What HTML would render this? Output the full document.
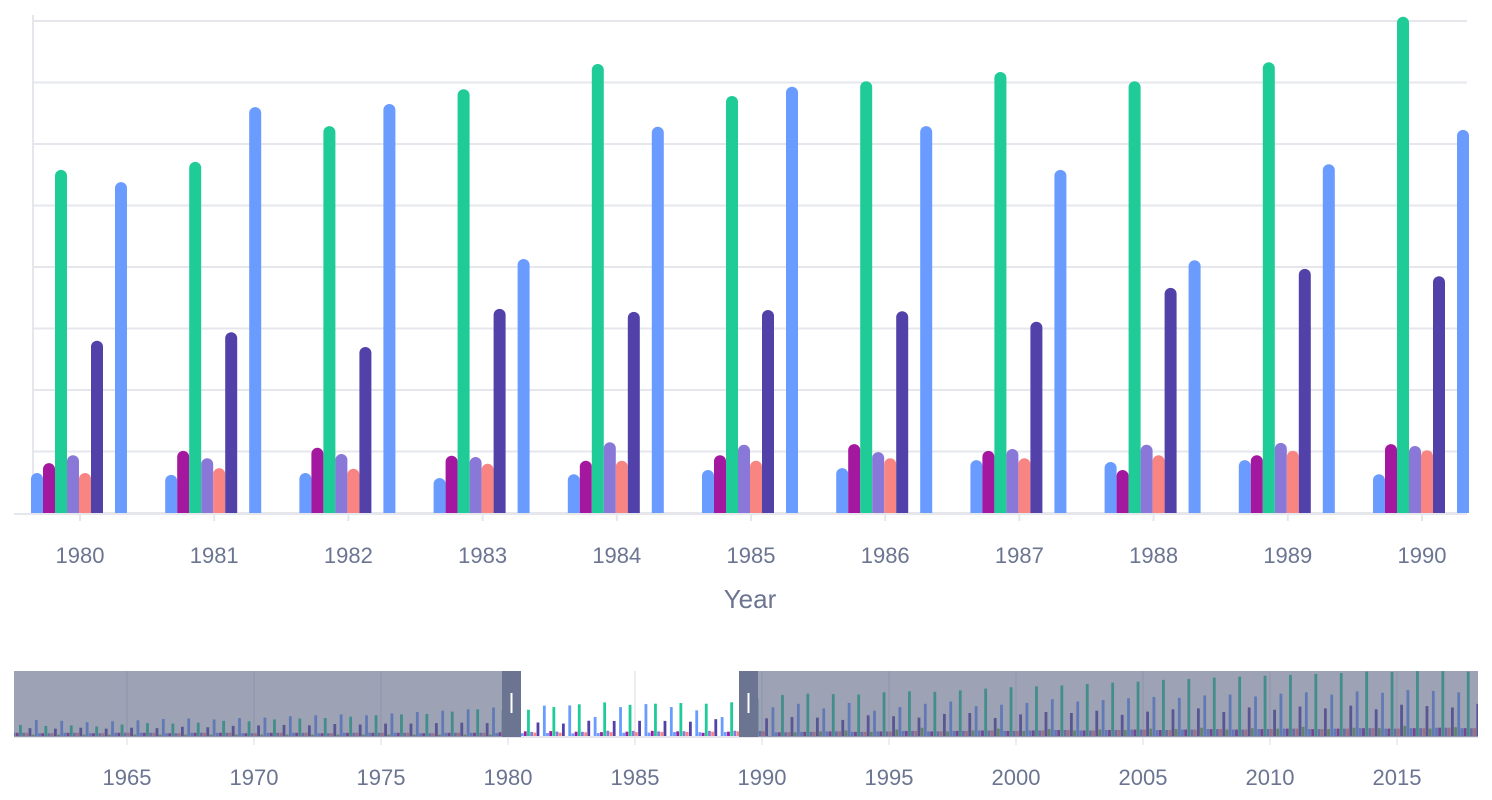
<!DOCTYPE html>
<html><head><meta charset="utf-8"><style>
html,body{margin:0;padding:0;background:#fff;}
svg{display:block;font-family:"Liberation Sans",sans-serif;}
</style></head><body>
<svg id="chart" width="1492" height="800">
<defs><clipPath id="navclip"><rect x="14" y="660" width="1464" height="78"/></clipPath></defs>
</svg>
<script>
const years=[1980,1981,1982,1983,1984,1985,1986,1987,1988,1989,1990];
const sBlue=[6.5,6.2,6.5,5.7,6.3,7.0,7.3,8.6,8.3,8.6,6.3];
const sMagenta=[8.1,10.1,10.6,9.3,8.5,9.4,11.2,10.1,7.0,9.4,11.2];
const sGreen=[55.8,57.1,62.9,68.9,73.0,67.8,70.2,71.7,70.2,73.3,80.7];
const sLavender=[9.4,8.9,9.6,9.1,11.5,11.1,9.9,10.4,11.1,11.4,10.9];
const sSalmon=[6.5,7.3,7.2,8.0,8.5,8.5,8.9,8.9,9.4,10.1,10.2];
const sIndigo=[28.0,29.4,27.0,33.2,32.7,33.0,32.8,31.1,36.6,39.7,38.5];
const sOlive=[0,0,0,0,0,0,0,0,0,0,0];
const sBlue2=[53.8,66.0,66.5,41.3,62.8,69.3,62.9,55.8,41.1,56.7,62.3];
const yTicks=[0,10,20,30,40,50,60,70,80];
const navTicks=[1965,1970,1975,1980,1985,1990,1995,2000,2005,2010,2015];
const navGreenPre=[24,22,23,21,25,28,27,29,33,32,36,38,39,42,45,47,48,53,58];
const navGreenPost=[89,92,91,90,95,97,96,99,103,106,108,110,113,116,118,122,124,127,129,131,133,135,137,140,139,141,141,140];
const navBlue2Pre=[35,33,30,32,34,37,38,36,39,40,43,45,47,45,49,52,55,58,62];
const navBlue2Post=[70,60,72,55,63,70,75,65,68,72,80,75,78,82,85,83,88,90,86,92,95,90,97,94,100,98,95,104];
const navIndigoPre=[17,16,18,16,18,17,20,19,22,23,24,23,26,25,27,27,28,29,28];
const navIndigoPost=[41,40,35,45,43,40,48,50,39,47,52,50,55,46,53,58,60,52,62,57,64,60,66,58,68,65,62,70];
const navSmallPre=[7,6,7,6,7,7,6,7,7,6,7,7,6,7,7,7,6,7,7];
const navSmallPost=[8,9,10,9,10,11,10,11,12,11,12,13,12,13,14,13,14,15,14,15,16,15,16,17,16,17,18,17];
const navOlivePre=[3,3,3,3,3,3,3,3,3,3,3,3,3,3,3,3,3,3,3];
const navOlivePost=[8,10,12,9,14,18,10,12,16,11,15,12,14,13,16,15,18,14,17,16,20,15,18,17,22,16,19,17];

const NS="http://www.w3.org/2000/svg";
const svg=document.getElementById('chart');
function mk(tag,attrs,parent){const e=document.createElementNS(NS,tag);for(const k in attrs)e.setAttribute(k,attrs[k]);(parent||svg).appendChild(e);return e;}
const colors=['#6a9bff','#a4179f','#1fcb97','#8a78d8','#f98583','#5341aa','#74b04a','#6a9bff'];
const series=[sBlue,sMagenta,sGreen,sLavender,sSalmon,sIndigo,sOlive,sBlue2];
const base=513, unit=6.15;
const yScale=v=>base-v*unit;
const xCenter=i=>80+i*134.2;
const grid=mk('g',{});

yTicks.forEach(t=>{const l=mk('line',{x1:33,x2:1467,y1:yScale(t),y2:yScale(t),stroke:'#e6e7ec','stroke-width':2},grid);
});
const yax=mk('line',{x1:33,x2:33,y1:15,y2:513,stroke:'#e6e7ec','stroke-width':2});

const bars=mk('g',{});

function barPath(x,w,top){const r=w/2;const h=base-top;if(h<=0)return '';const rr=Math.min(r,h);
return `M${x},${base}V${top+rr}A${r},${rr} 0 0 1 ${x+w},${top+rr}V${base}Z`;}
years.forEach((y,i)=>{const x0=xCenter(i)-49;
series.forEach((s,j)=>{const v=s[i];if(v<=0)return;
const p=mk('path',{d:barPath(x0+j*12,12,yScale(v)),fill:colors[j]},bars);
});
const tk=mk('line',{x1:xCenter(i),x2:xCenter(i),y1:514,y2:521,stroke:'#e6e7ec','stroke-width':2});

const t=mk('text',{x:xCenter(i),y:563,'text-anchor':'middle','font-size':22,fill:'#6b7591'});t.textContent=y;
});
const xb=mk('line',{x1:14,x2:1467,y1:514,y2:514,stroke:'#e6e7ec','stroke-width':2});

const xt=mk('text',{x:750,y:608,'text-anchor':'middle','font-size':26,fill:'#6b7591'});xt.textContent='Year';


const nav=mk('g',{});

const nx=yr=>508+(yr-1980)*25.4, nb=736, nu=0.46;
navTicks.forEach(t=>{const l=mk('line',{x1:nx(t),x2:nx(t),y1:671,y2:745,stroke:'#eceef2','stroke-width':2},nav);

const tx=mk('text',{x:nx(t),y:785,'text-anchor':'middle','font-size':22,fill:'#6b7591'},nav);tx.textContent=t;
});
function navVals(yr){let pre=yr<1980,idx=pre?yr-1961:yr-1991;
if(yr>=1980&&yr<=1990){const i=yr-1980;return series.map(s=>s[i]);}
const sm=pre?navSmallPre[idx]:navSmallPost[idx];
const g=pre?navGreenPre[idx]:navGreenPost[idx],b=pre?navBlue2Pre[idx]:navBlue2Post[idx],n=pre?navIndigoPre[idx]:navIndigoPost[idx],o=pre?navOlivePre[idx]:navOlivePost[idx];
return [sm,sm,g,sm,sm,n,o,b];}
const navBars=mk('g',{'clip-path':'url(#navclip)'},nav);

for(let yr=1961;yr<=2018;yr++){const v=navVals(yr);const x0=nx(yr)-12.7;
v.forEach((val,j)=>{if(val<=0)return;const r=mk('rect',{x:x0+j*3.175,y:nb-val*nu,width:2.8,height:val*nu,fill:colors[j]},navBars);
});}
const nl=mk('line',{x1:14,x2:1478,y1:737,y2:737,stroke:'#e6e7ec','stroke-width':2},nav);

const m1=mk('rect',{x:14,y:671,width:488,height:66,fill:'rgba(92,100,132,0.6)'},nav);

const m2=mk('rect',{x:758,y:671,width:720,height:66,fill:'rgba(92,100,132,0.6)'},nav);

[502,739].forEach((hx,k)=>{const h=mk('rect',{x:hx,y:671,width:19,height:66,fill:'#6b7591'},nav);

mk('rect',{x:hx+8.5,y:693,width:2,height:20,fill:'#fff'},nav);});
</script>
</body></html>
